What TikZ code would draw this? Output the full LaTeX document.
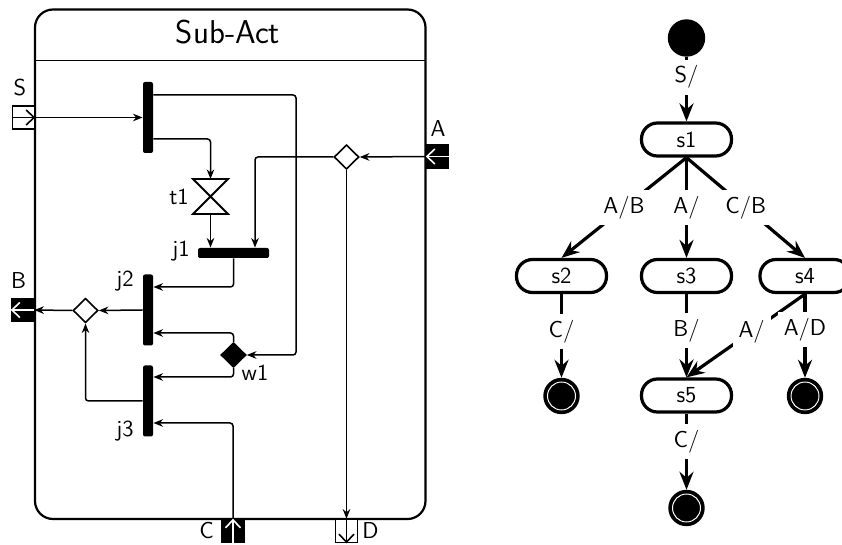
\documentclass[tikz,border=0pt]{standalone}
\usetikzlibrary{arrows.meta,shapes.geometric}
\begin{document}
\begin{tikzpicture}[x=0.5pt,y=-0.5pt,
  every node/.style={font=\sffamily\fontsize{11.5}{13.5}\selectfont},
  bar/.style={fill=black, draw=none, rounded corners=1pt, inner sep=0pt},
  vbar/.style={bar, minimum width=5pt, minimum height=35.5pt},
  hbar/.style={bar, minimum width=35.5pt, minimum height=5pt},
  dec/.style={diamond, draw, line width=0.8pt, fill=white, inner sep=0pt, minimum width=12.5pt, minimum height=12.2pt},
  port/.style={rectangle, draw, line width=0.8pt, minimum width=11pt, minimum height=11.5pt, inner sep=0pt},
  pin/.style={line width=0.8pt, -{Straight Barb[length=4pt,width=7.5pt]}},
  conn/.style={line width=0.75pt, -{Stealth[length=4.8pt,width=3.8pt]}, rounded corners=1.5pt},
  hglass/.style={minimum width=17.5pt, minimum height=17.5pt, inner sep=0pt, outer sep=0pt},
  initst/.style={circle, fill=black, minimum size=18.7pt, inner sep=0pt},
  finalst/.style={circle, fill=black, draw=black, line width=1.6pt, minimum size=16.6pt, inner sep=0pt,
    path picture={\draw[white, line width=0.5pt] (path picture bounding box.center) circle (7pt);}},
  state/.style={draw, line width=1.6pt, rounded corners=8pt, minimum width=45pt, minimum height=16.5pt, inner sep=0pt},
  tr/.style={line width=1.6pt, -{Stealth[length=9pt,width=7pt,inset=3pt]}},
  lbl/.style={fill=white, inner sep=3pt}
]
\clip (0,0) rectangle (842,545);
\fill[white] (0,0) rectangle (842,545);

% ---------------- left: activity ----------------
\node[draw, line width=1.1pt, rounded corners=9pt, minimum width=195.25pt, minimum height=254.75pt, inner sep=0pt] (frame) at (230.25,264.25) {};
\draw[line width=0.5pt] (35,61) -- (425.5,61);
\node[font=\sffamily\fontsize{16.5}{19}\selectfont] (title) at (228,32) {Sub-Act};

\node[vbar] (f1) at (148,117.5) {};
\node[vbar] (j2) at (148,310) {};
\node[vbar] (j3) at (148,401) {};
\node[hbar] (j1) at (233.5,253) {};
\node[hglass] (t1) at (210.5,196.5) {};
\draw[line width=0.9pt] (t1.north west) -- (t1.north east) -- (t1.south west) -- (t1.south east) -- cycle;
\node[dec] (d1) at (346.5,157) {};
\node[dec] (d2) at (85.5,310.5) {};
\node[dec, fill=black] (w1) at (233.5,355) {};

\node[port, fill=white] (S) at (23.5,117.5) {};
\node[port, fill=black] (A) at (437.5,156.5) {};
\node[port, fill=black] (B) at (22.5,310) {};
\node[port, fill=black] (C) at (233,531) {};
\node[port, fill=white] (D) at (346.5,531) {};
\draw[pin] (S.west) -- (S.east);
\draw[pin, white] (A.east) -- (A.west);
\draw[pin, white] (B.east) -- (B.west);
\draw[pin, white] (C.south) -- (C.north);
\draw[pin] (D.north) -- (D.south);

\node (lS) at (20,88) {S};
\node (lA) at (438,129) {A};
\node (lB) at (18.5,281) {B};
\node (lC) at (206.5,531) {C};
\node (lD) at (370.5,531) {D};
\node (lt1) at (179,197) {t1};
\node (lj1) at (181,251) {j1};
\node (lj2) at (125,281) {j2};
\node (lj3) at (125,431) {j3};
\node (lw1) at (255,373) {w1};

\coordinate (cA) at (296,0);
\draw[conn] (S.east) -- (f1.west);
\draw[conn] ([yshift=11.25pt]f1.east) -| (cA |- w1.east) -- (w1.east);
\draw[conn] ([yshift=-10.75pt]f1.east) -| (t1.north);
\draw[conn] (t1.south) -- (t1.south |- j1.north);
\draw[conn] (A.west) -- (d1.east);
\draw[conn] (d1.west) -| ([xshift=10.75pt]j1.north);
\draw[conn] (d1.south) -- (D.north);
\draw[conn] (j1.south) |- ([yshift=11.5pt]j2.east);
\draw[conn] (j2.west) -- (d2.east);
\draw[conn] (d2.west) -- (B.east);
\draw[conn] (w1.north) |- ([yshift=-11.5pt]j2.east);
\draw[conn] (w1.south) |- ([yshift=12pt]j3.east);
\draw[conn] (j3.west) -| (d2.south);
\draw[conn] (C.north) |- ([yshift=-11pt]j3.east);

% ---------------- right: state machine ----------------
\node[initst] (i0) at (686.5,38) {};
\node[state] (s1) at (686.5,139.5) {s1};
\node[state] (s2) at (561.5,276) {s2};
\node[state] (s3) at (686.5,276) {s3};
\node[state] (s4) at (805,276) {s4};
\node[state] (s5) at (686.5,395.5) {s5};
\node[finalst] (f2) at (561.5,396) {};
\node[finalst] (f4) at (805,396) {};
\node[finalst] (f5) at (686.5,508) {};

\draw[tr] (i0) -- node[lbl, pos=0.31] {S/} (s1.north);
\draw[tr] (s1.south) -- node[lbl] {A/B} (s2.north);
\draw[tr] (s1.south) -- node[lbl] {A/} (s3.north);
\draw[tr] (s1.south) -- node[lbl] {C/B} (s4.north);
\draw[tr] (s2.south) -- node[lbl, pos=0.45] {C/} (f2);
\draw[tr] (s3.south) -- node[lbl, pos=0.44] {B/} (s5.north);
\draw[tr] (s4.south) -- node[lbl, pos=0.45] {A/} (s5.north);
\draw[tr] (s4.south) -- node[lbl, pos=0.42] {A/D} (f4);
\draw[tr] (s5.south) -- node[lbl, pos=0.37] {C/} (f5);
\end{tikzpicture}
\end{document}
